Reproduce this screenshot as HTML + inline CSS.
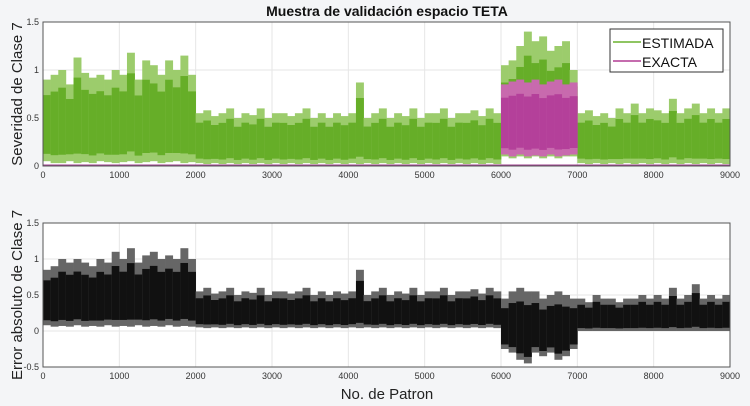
<!DOCTYPE html>
<html><head><meta charset="utf-8"><style>
body{margin:0;background:#f4f5f7;}
svg{display:block;font-family:"Liberation Sans",sans-serif;}
</style></head><body>
<svg id="c" width="750" height="406">
<rect width="750" height="406" fill="#f4f5f7"/>
<text x="387" y="16" text-anchor="middle" font-size="14" font-weight="bold" fill="#111">Muestra de validación espacio TETA</text>
<g id="top"></g>
<g id="bot"></g>
<text transform="translate(22,94) rotate(-90)" text-anchor="middle" font-size="15" fill="#222">Severidad de Clase 7</text>
<text transform="translate(22,295) rotate(-90)" text-anchor="middle" font-size="15" fill="#222">Error absoluto de Clase 7</text>
<text x="387" y="399" text-anchor="middle" font-size="15" fill="#222">No. de Patron</text>
</svg>
<script>
const xTicks=[0,1000,2000,3000,4000,5000,6000,7000,8000,9000];
const topYTicks=[0,0.5,1,1.5];
const botYTicks=[-0.5,0,0.5,1,1.5];
const binSize=100;
// ESTIMADA envelope per 100-sample bin
const estHi=[0.9,0.95,1.0,0.85,1.13,0.97,0.92,0.95,0.9,1.0,0.95,1.18,0.9,1.1,1.05,0.95,1.1,1.0,1.15,0.95,
0.55,0.58,0.52,0.55,0.6,0.5,0.55,0.53,0.6,0.5,0.55,0.55,0.52,0.55,0.6,0.5,0.55,0.5,0.55,0.52,
0.55,0.87,0.5,0.55,0.6,0.5,0.55,0.52,0.6,0.5,0.55,0.55,0.6,0.5,0.55,0.55,0.58,0.52,0.6,0.55,
1.05,1.1,1.25,1.4,1.3,1.35,1.2,1.25,1.3,1.0,
0.55,0.58,0.52,0.55,0.5,0.6,0.55,0.65,0.55,0.6,0.58,0.55,0.7,0.55,0.6,0.65,0.55,0.6,0.55,0.6];
const estLo=[0.05,0.03,0.03,0.05,0.03,0.04,0.03,0.05,0.04,0.03,0.04,0.05,0.03,0.04,0.05,0.03,0.04,0.05,0.03,0.04,
0.03,0.02,0.03,0.02,0.03,0.02,0.03,0.02,0.03,0.02,0.03,0.02,0.03,0.02,0.03,0.02,0.03,0.02,0.03,0.02,
0.03,0.02,0.03,0.02,0.03,0.02,0.03,0.02,0.03,0.02,0.03,0.02,0.03,0.02,0.03,0.02,0.03,0.02,0.03,0.02,
0.1,0.08,0.1,0.08,0.1,0.08,0.1,0.08,0.1,0.1,
0.03,0.02,0.03,0.02,0.03,0.02,0.03,0.02,0.03,0.02,0.03,0.02,0.03,0.02,0.03,0.02,0.03,0.02,0.03,0.02];
// EXACTA nonzero only in 6000-7000
const exaHi=[0.85,0.88,0.9,0.87,0.9,0.85,0.88,0.9,0.85,0.87];
const exaLo=[0.12,0.1,0.12,0.1,0.11,0.1,0.12,0.1,0.11,0.12];
const exaStart=6000;
// error envelope
const errHi=[0.85,0.9,1.0,0.95,1.0,0.95,0.9,1.0,0.95,1.1,1.0,1.15,0.95,1.05,1.1,1.0,1.05,1.0,1.15,1.0,
0.55,0.6,0.52,0.55,0.6,0.5,0.55,0.53,0.6,0.5,0.55,0.55,0.52,0.55,0.6,0.5,0.55,0.5,0.55,0.52,
0.55,0.85,0.5,0.55,0.6,0.5,0.55,0.52,0.6,0.5,0.55,0.55,0.6,0.5,0.55,0.55,0.58,0.52,0.6,0.55,
0.45,0.55,0.6,0.55,0.55,0.45,0.5,0.55,0.5,0.45,
0.45,0.4,0.5,0.45,0.45,0.4,0.45,0.45,0.5,0.45,0.5,0.45,0.6,0.45,0.5,0.65,0.45,0.5,0.45,0.5];
const errLo=[0.08,0.06,0.07,0.06,0.08,0.06,0.07,0.06,0.08,0.06,0.07,0.06,0.08,0.06,0.07,0.06,0.08,0.06,0.07,0.06,
0.05,0.04,0.05,0.04,0.05,0.04,0.05,0.04,0.05,0.04,0.05,0.04,0.05,0.04,0.05,0.04,0.05,0.04,0.05,0.04,
0.05,0.04,0.05,0.04,0.05,0.04,0.05,0.04,0.05,0.04,0.05,0.04,0.05,0.04,0.05,0.04,0.05,0.04,0.05,0.04,
-0.25,-0.3,-0.4,-0.45,-0.3,-0.35,-0.3,-0.4,-0.35,-0.25,
0,0,0,0,0,0,0,0,0,0,0,0,0,0,0,0,0,0,0,0];

const NS='http://www.w3.org/2000/svg';
function el(t,a,p){const e=document.createElementNS(NS,t);for(const k in a)e.setAttribute(k,a[k]);p.appendChild(e);return e;}
const X0=43,X1=730;
const xs=v=>X0+(v/9000)*(X1-X0);

function axes(g,top,bot,ymin,ymax,yt){
  const ys=v=>bot-(v-ymin)/(ymax-ymin)*(bot-top);
  const bg=el('rect',{x:X0,y:top,width:X1-X0,height:bot-top,fill:'#fff'},g);
  
  
  xTicks.forEach(t=>{
    const l=el('line',{x1:xs(t),x2:xs(t),y1:top,y2:bot,stroke:'#e6e6e6'},g);
    
    
    const tx=el('text',{x:xs(t),y:bot+12,'font-size':9,'text-anchor':'middle',fill:'#333'},g);
    tx.textContent=t;
    
    
  });
  yt.forEach(t=>{
    const l=el('line',{x1:X0,x2:X1,y1:ys(t),y2:ys(t),stroke:'#e6e6e6'},g);
    
    
    const tx=el('text',{x:X0-4,y:ys(t)+3,'font-size':9,'text-anchor':'end',fill:'#333'},g);
    tx.textContent=t;
    
    
  });
  return ys;
}
function env(g,hi,lo,start,ys,fill,core,name){
  hi.forEach((h,i)=>{
    const x=xs(start+i*binSize),w=xs(start+(i+1)*binSize)-x;
    const r=el('rect',{x:x,y:ys(h),width:w+0.3,height:ys(lo[i])-ys(h),fill:fill},g);
    
    
    const mid=(h+lo[i])/2-(h-lo[i])*0.05,half=(h-lo[i])*0.36;
    const c=el('rect',{x:x,y:ys(mid+half),width:w+0.3,height:ys(mid-half)-ys(mid+half),fill:core},g);
    
    
  });
}
function frame(g,top,bot){
  const f=el('rect',{x:X0,y:top,width:X1-X0,height:bot-top,fill:'none',stroke:'#555','stroke-width':1},g);
  
  
}
const gt=document.getElementById('top');
const ysT=axes(gt,22,166,0,1.5,topYTicks);
env(gt,estHi,estLo,0,ysT,'#9ccc6c','#66ae28','estimada-series');
env(gt,exaHi,exaLo,exaStart,ysT,'#c86aae','#b4409a','exacta-series');
const zl=el('line',{x1:X0,x2:X1,y1:ysT(0)-1,y2:ysT(0)-1,stroke:'#a04090'},gt);


frame(gt,22,166);
const lg=el('g',{},gt);


el('rect',{x:610,y:29,width:113,height:43,fill:'#fff',stroke:'#333'},lg);
el('line',{x1:613,x2:641,y1:42,y2:42,stroke:'#6ab22e','stroke-width':1.5},lg);
el('line',{x1:613,x2:641,y1:61,y2:61,stroke:'#b23c93','stroke-width':1.5},lg);
const t1=el('text',{x:642,y:48,'font-size':14,fill:'#111'},lg);t1.textContent='ESTIMADA';


const t2=el('text',{x:642,y:67,'font-size':14,fill:'#111'},lg);t2.textContent='EXACTA';



const gb=document.getElementById('bot');
const ysB=axes(gb,223,367,-0.5,1.5,botYTicks);
env(gb,errHi,errLo,0,ysB,'#666','#111','error-series');
frame(gb,223,367);
</script>
</body></html>
